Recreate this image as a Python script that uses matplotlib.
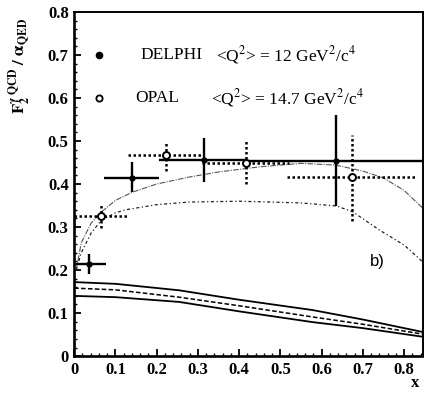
import numpy as np
import matplotlib
matplotlib.use("Agg")
import matplotlib.pyplot as plt
from matplotlib.ticker import MultipleLocator

plt.rcParams['font.family'] = ['Liberation Serif', 'DejaVu Serif']
plt.rcParams['mathtext.fontset'] = 'stix'

# DELPHI points (solid error bars)
delphi_x = [0.037, 0.141, 0.315, 0.634]
delphi_y = [0.214, 0.414, 0.456, 0.453]
delphi_xlo = [0.0, 0.073, 0.205, 0.42]
delphi_xhi = [0.078, 0.205, 0.42, 0.90]
delphi_ylo = [0.190, 0.381, 0.405, 0.349]
delphi_yhi = [0.237, 0.451, 0.507, 0.560]

# OPAL points (dotted error bars)
opal_x = [0.066, 0.222, 0.417, 0.673]
opal_y = [0.326, 0.467, 0.449, 0.416]
opal_xlo = [0.0, 0.130, 0.310, 0.517]
opal_xhi = [0.130, 0.310, 0.520, 0.830]
opal_ylo = [0.298, 0.430, 0.400, 0.314]
opal_yhi = [0.356, 0.498, 0.500, 0.514]

# upper thin curve
up_x = [0.005, 0.017, 0.041, 0.066, 0.10, 0.141, 0.20, 0.278, 0.35, 0.45, 0.55, 0.634, 0.70, 0.75, 0.80, 0.845]
up_y = [0.200, 0.263, 0.309, 0.335, 0.362, 0.381, 0.400, 0.416, 0.428, 0.440, 0.448, 0.444, 0.430, 0.414, 0.385, 0.344]
# lower dash-dot curve
lo_x = [0.005, 0.017, 0.041, 0.066, 0.10, 0.124, 0.20, 0.278, 0.40, 0.48, 0.55, 0.636, 0.676, 0.74, 0.80, 0.845]
lo_y = [0.200, 0.240, 0.286, 0.316, 0.333, 0.340, 0.352, 0.358, 0.360, 0.358, 0.356, 0.349, 0.335, 0.293, 0.258, 0.219]

# QED band curves
band_x = [0.0, 0.10, 0.254, 0.40, 0.578, 0.70, 0.845]
band_top = [0.172, 0.168, 0.153, 0.131, 0.107, 0.085, 0.056]
band_mid = [0.158, 0.154, 0.137, 0.117, 0.091, 0.074, 0.051]
band_bot = [0.140, 0.137, 0.126, 0.104, 0.079, 0.065, 0.045]

fig = plt.figure(figsize=(4.24, 3.97), dpi=100)
ax = fig.add_axes([0.175, 0.103, 0.823, 0.867])

ax.plot(up_x, up_y, color="#555555", lw=0.8, ls=(0, (5, 1.2, 1, 1.2)))
ax.plot(lo_x, lo_y, color="#222222", lw=0.9, ls=(0, (2.5, 2, 1, 2)))
ax.plot(band_x, band_top, color="black", lw=1.3)
ax.plot(band_x, band_mid, color="black", lw=1.1, ls=(0, (3, 1.5)))
ax.plot(band_x, band_bot, color="black", lw=1.3)

# DELPHI
dx = np.array(delphi_x); dy = np.array(delphi_y)
ax.hlines(dy, delphi_xlo, delphi_xhi, colors="black", lw=1.7)
ax.vlines(dx, delphi_ylo, delphi_yhi, colors="black", lw=1.7)
ax.plot(dx, dy, "o", color="black", ms=3.5)

# OPAL
ox = np.array(opal_x); oy = np.array(opal_y)
ax.hlines(oy, opal_xlo, opal_xhi, colors="black", lw=1.8, linestyles=(0, (1, 1)))
ax.vlines(ox, opal_ylo, opal_yhi, colors="black", lw=1.8, linestyles=(0, (1, 1)))
ax.plot(ox, oy, "o", mfc="white", mec="black", mew=1.4, ms=5, zorder=5)

# legend
ax.plot([0.059], [0.70], "o", color="black", ms=4.5)
ax.plot([0.059], [0.60], "o", mfc="white", mec="black", mew=1.3, ms=4.5)
ax.text(0.161, 0.70, "DELPHI", fontsize=12.5, va="center")
ax.text(0.344, 0.70, r"<Q$^2$> = 12 GeV$^2$/c$^4$", fontsize=12.5, va="center")
ax.text(0.149, 0.60, "OPAL", fontsize=12.5, va="center")
ax.text(0.332, 0.60, r"<Q$^2$> = 14.7 GeV$^2$/c$^4$", fontsize=12.5, va="center")

ax.text(0.717, 0.219, "b)", fontsize=12, family="Liberation Sans", va="center")

ax.set_xlim(0, 0.846)
ax.set_ylim(0, 0.8)
ax.xaxis.set_minor_locator(MultipleLocator(0.02))
ax.yaxis.set_minor_locator(MultipleLocator(0.02))
ax.set_xticks(np.arange(0, 0.81, 0.1))
ax.set_xticklabels(["0", "0.1", "0.2", "0.3", "0.4", "0.5", "0.6", "0.7", "0.8"])
ax.set_yticks(np.arange(0, 0.81, 0.1))
ax.set_yticklabels(["0", "0.1", "0.2", "0.3", "0.4", "0.5", "0.6", "0.7", "0.8"])
ax.tick_params(which="both", direction="in", top=False, right=False)
ax.tick_params(which="major", length=5, width=1.3, labelsize=12, pad=4)
ax.tick_params(which="minor", length=2.5, width=1.0)
for lab in ax.get_xticklabels() + ax.get_yticklabels():
    lab.set_fontweight("bold")
for s in ["left", "bottom"]:
    ax.spines[s].set_linewidth(1.9)
for s in ["top", "right"]:
    ax.spines[s].set_linewidth(1.4)

fig.text(20 / 424, 1 - 66 / 397, r"$\mathbf{F_2^{\gamma\ QCD}\ /\ \alpha_{QED}}$",
         rotation=90, ha="center", va="center", fontsize=12)
fig.text(415 / 424, 1 - 383 / 397, "x", fontsize=12, fontweight="bold",
         ha="center", va="center")

fig.savefig("out.png", dpi=100)
